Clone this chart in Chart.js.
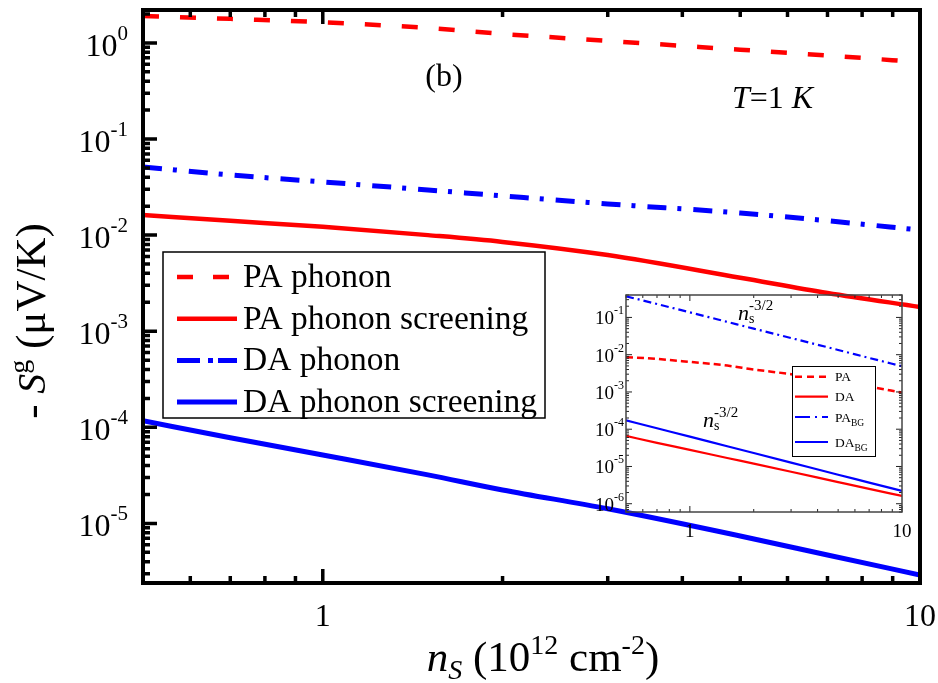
<!DOCTYPE html>
<html>
<head>
<meta charset="utf-8">
<script src="https://cdn.jsdelivr.net/npm/chart.js@4.4.1/dist/chart.umd.min.js"></script>
<style>
  html, body { margin: 0; padding: 0; background: #fff; }
  #wrap { position: relative; width: 938px; height: 683px; overflow: hidden; }
  #main { position: absolute; left: 0; top: 0; }
  #inset { position: absolute; left: 585px; top: 285px; }
</style>
</head>
<body>
<div id="wrap">
  <canvas id="main" width="938" height="683"></canvas>
  <canvas id="inset" width="333" height="255"></canvas>
</div>
<script>
const SERIF = '"Liberation Serif", "Times New Roman", serif';

// main panel, n_s in 10^12 cm^-2, -S^g in uV/K
const nsMain = [0.5, 0.7, 1, 1.5, 2, 3, 5, 7, 10];
const paPhonon = [1.91, 1.78, 1.64, 1.43, 1.24, 1.05, 0.85, 0.74, 0.63];
const paScreening = [0.0162, 0.0141, 0.0122, 0.0100, 0.0085, 0.0062, 0.0036, 0.0025, 0.00179];
const daPhonon = [0.0513, 0.0423, 0.0358, 0.0295, 0.0256, 0.0211, 0.0170, 0.0141, 0.0113];
const daScreening = [1.17e-4, 7.8e-5, 5.16e-5, 3.2e-5, 2.23e-5, 1.42e-5, 7.4e-6, 4.7e-6, 2.91e-6];
const mainLabels = ['PA phonon', 'PA phonon screening', 'DA phonon', 'DA phonon screening'];
const mainXTicks = [1, 10];
const mainYExps = [0, -1, -2, -3, -4, -5];

// inset
const nsInset = [0.5, 0.7, 1, 1.5, 2, 3, 5, 7, 10];
const insetPA = [0.0086, 0.0077, 0.0064, 0.0051, 0.0040, 0.0030, 0.0019, 0.0014, 0.00096];
const insetDA = [6.6e-5, 4.3e-5, 2.8e-5, 1.69e-5, 1.19e-5, 7.2e-6, 3.8e-6, 2.5e-6, 1.62e-6];
const insetPABG = [0.37, 0.229, 0.137, 0.076, 0.050, 0.028, 0.0134, 0.0082, 0.0049];
const insetDABG = [1.73e-4, 1.06e-4, 6.3e-5, 3.5e-5, 2.3e-5, 1.27e-5, 6.0e-6, 3.7e-6, 2.2e-6];
const insetLabels = [['PA', ''], ['DA', ''], ['PA', 'BG'], ['DA', 'BG']];
const insetXTicks = [1, 10];
const insetYExps = [-1, -2, -3, -4, -5, -6];

const pts = (xs, ys) => xs.map((x, i) => ({ x: x, y: ys[i] }));
const font = (size, style) => (style || 'normal') + ' ' + size + 'px ' + SERIF;

// draws text pieces one after another (sub/superscripts via dy)
function rich(ctx, parts, x, y, align) {
    let total = 0;
    parts.forEach(p => { ctx.font = font(p.s, p.st); p.w = ctx.measureText(p.t).width; total += p.w; });
    let cx = align === 'right' ? x - total : align === 'center' ? x - total / 2 : x;
    ctx.textAlign = 'left';
    ctx.textBaseline = 'alphabetic';
    parts.forEach(p => {
        ctx.font = font(p.s, p.st);
        ctx.fillText(p.t, cx, y + (p.dy || 0));
        if (!p.stack) cx += p.w;
    });
}

function logTicks(min, max) {
    const out = [];
    for (let d = Math.floor(Math.log10(min)); d <= Math.ceil(Math.log10(max)); d++) {
        for (let m = 1; m < 10; m++) {
            const v = m * Math.pow(10, d);
            if (v >= min * 0.999 && v <= max * 1.001) out.push({ v: v, major: m === 1 });
        }
    }
    return out;
}

function drawFrame(ctx, chart, o) {
    const a = chart.chartArea, xs = chart.scales.x, ys = chart.scales.y;
    ctx.save();
    ctx.strokeStyle = o.color;
    ctx.lineWidth = o.tickWidth;
    ctx.setLineDash([]);
    ctx.beginPath();
    logTicks(xs.min, xs.max).forEach(t => {
        const px = xs.getPixelForValue(t.v), len = t.major ? o.major : o.minor;
        ctx.moveTo(px, a.bottom); ctx.lineTo(px, a.bottom - len);
        ctx.moveTo(px, a.top); ctx.lineTo(px, a.top + len);
    });
    logTicks(ys.min, ys.max).forEach(t => {
        const py = ys.getPixelForValue(t.v), len = t.major ? o.major : o.minor;
        ctx.moveTo(a.left, py); ctx.lineTo(a.left + len, py);
        if (o.mirrorY) { ctx.moveTo(a.right, py); ctx.lineTo(a.right - len, py); }
    });
    ctx.stroke();
    ctx.strokeStyle = o.frameColor;
    ctx.lineWidth = o.frameWidth;
    ctx.strokeRect(a.left, a.top, a.right - a.left, a.bottom - a.top);
    ctx.restore();
}

const mainDecor = {
    id: 'mainDecor',
    afterDatasetsDraw(chart) {
        const ctx = chart.ctx;
        // legend
        ctx.save();
        ctx.fillStyle = '#fff';
        ctx.fillRect(163, 252, 382, 166);
        ctx.strokeStyle = '#000';
        ctx.lineWidth = 1.5;
        ctx.strokeRect(163, 252, 382, 166);
        chart.data.datasets.forEach((ds, i) => {
            const y = 277 + i * 41.7;
            ctx.strokeStyle = ds.borderColor;
            ctx.lineWidth = ds.borderWidth;
            ctx.setLineDash(ds.legendDash || []);
            ctx.beginPath(); ctx.moveTo(177, y); ctx.lineTo(237, y); ctx.stroke();
            ctx.setLineDash([]);
            ctx.fillStyle = '#000';
            rich(ctx, [{ t: ds.label, s: 33.5 }], 243, y + 10, 'left');
        });
        ctx.restore();
    },
    afterDraw(chart) {
        const ctx = chart.ctx, xs = chart.scales.x, ys = chart.scales.y;
        drawFrame(ctx, chart, { color: '#000', frameColor: '#000', tickWidth: 3.5, frameWidth: 4, major: 14, minor: 7, mirrorY: false });
        ctx.save();
        ctx.fillStyle = '#000';
        mainYExps.forEach(e => {
            const py = ys.getPixelForValue(Math.pow(10, e));
            rich(ctx, [{ t: '10', s: 32 }, { t: String(e), s: 21, dy: -16 }], 128, py + 13, 'right');
        });
        mainXTicks.forEach(v => {
            rich(ctx, [{ t: String(v), s: 32 }], xs.getPixelForValue(v), 626, 'center');
        });
        // axis titles
        rich(ctx, [
            { t: 'n', s: 43, st: 'italic' }, { t: 'S', s: 28, st: 'italic', dy: 8 },
            { t: ' (10', s: 43 }, { t: '12', s: 28, dy: -17 },
            { t: ' cm', s: 43 }, { t: '-2', s: 28, dy: -17 }, { t: ')', s: 43 }
        ], 543, 671, 'center');
        ctx.save();
        ctx.translate(45, 321);
        ctx.rotate(-Math.PI / 2);
        rich(ctx, [
            { t: '- ', s: 43 }, { t: 'S', s: 40, st: 'italic' }, { t: 'g', s: 28, dy: -17 },
            { t: ' (\u03BCV/K)', s: 43 }
        ], 0, 0, 'center');
        ctx.restore();
        rich(ctx, [{ t: '(b)', s: 32 }], 444, 86, 'center');
        rich(ctx, [{ t: 'T', s: 32, st: 'italic' }, { t: '=1 ', s: 32 }, { t: 'K', s: 32, st: 'italic' }], 732, 108, 'left');
        ctx.restore();
    }
};

const insetDecor = {
    id: 'insetDecor',
    afterDatasetsDraw(chart) {
        const ctx = chart.ctx;
        ctx.save();
        ctx.fillStyle = '#fff';
        ctx.fillRect(207, 81, 83, 90);
        ctx.strokeStyle = '#000';
        ctx.lineWidth = 1;
        ctx.strokeRect(207.5, 81.5, 83, 90);
        const rows = [91.7, 111.7, 132, 157];
        chart.data.datasets.forEach((ds, i) => {
            const y = rows[i];
            ctx.strokeStyle = ds.borderColor;
            ctx.lineWidth = ds.borderWidth;
            ctx.setLineDash(ds.legendDash || []);
            ctx.beginPath(); ctx.moveTo(210, y); ctx.lineTo(243, y); ctx.stroke();
            ctx.setLineDash([]);
            ctx.fillStyle = '#000';
            const lab = insetLabels[i];
            rich(ctx, [{ t: lab[0], s: 13.5 }, { t: lab[1], s: 9.5, dy: 4 }], 250, y + 4.5, 'left');
        });
        ctx.restore();
    },
    afterDraw(chart) {
        const ctx = chart.ctx, xs = chart.scales.x, ys = chart.scales.y;
        drawFrame(ctx, chart, { color: '#222', frameColor: '#444', tickWidth: 1, frameWidth: 1.5, major: 6, minor: 3, mirrorY: true });
        ctx.save();
        ctx.fillStyle = '#000';
        insetYExps.forEach(e => {
            const py = ys.getPixelForValue(Math.pow(10, e));
            rich(ctx, [{ t: '10', s: 19 }, { t: String(e), s: 12, dy: -10 }], 39, py + 7, 'right');
        });
        insetXTicks.forEach(v => {
            rich(ctx, [{ t: String(v), s: 19 }], xs.getPixelForValue(v), 252, 'center');
        });
        const power = [{ t: 'n', s: 22, st: 'italic' }, { t: 's', s: 14, dy: 3, stack: true }, { t: '-3/2', s: 15, dy: -10 }];
        rich(ctx, power, 153, 35, 'left');
        rich(ctx, power, 118, 142, 'left');
        ctx.restore();
    }
};

const logAxis = (min, max, fit) => ({
    type: 'logarithmic', min: min, max: max,
    ticks: { display: false }, grid: { display: false }, border: { display: false },
    afterFit: fit
});

new Chart(document.getElementById('main'), {
    type: 'line',
    data: {
        datasets: [
            { label: mainLabels[0], data: pts(nsMain, paPhonon), borderColor: '#ff0000', borderWidth: 4.5, borderDash: [16, 21], legendDash: [16, 20] },
            { label: mainLabels[1], data: pts(nsMain, paScreening), borderColor: '#ff0000', borderWidth: 4.5 },
            { label: mainLabels[2], data: pts(nsMain, daPhonon), borderColor: '#0000ff', borderWidth: 5, borderDash: [19, 11, 4, 12], legendDash: [23, 8, 5, 5] },
            { label: mainLabels[3], data: pts(nsMain, daScreening), borderColor: '#0000ff', borderWidth: 5 }
        ]
    },
    options: {
        responsive: false, animation: false, events: [],
        layout: { padding: { top: 10, right: 18, left: 0, bottom: 0 } },
        elements: { point: { radius: 0 }, line: { cubicInterpolationMode: 'monotone', borderCapStyle: 'butt' } },
        plugins: { legend: { display: false }, tooltip: { enabled: false } },
        scales: {
            x: logAxis(0.5, 10, s => { s.height = 100; }),
            y: logAxis(2.4e-6, 2.2, s => { s.width = 143; })
        }
    },
    plugins: [mainDecor]
});

new Chart(document.getElementById('inset'), {
    type: 'line',
    data: {
        datasets: [
            { label: 'PA', data: pts(nsInset, insetPA), borderColor: '#ff0000', borderWidth: 2.5, borderDash: [7, 4], legendDash: [7, 5] },
            { label: 'DA', data: pts(nsInset, insetDA), borderColor: '#ff0000', borderWidth: 2.2 },
            { label: 'PA_BG', data: pts(nsInset, insetPABG), borderColor: '#0000ff', borderWidth: 2.2, borderDash: [8, 4, 2, 4], legendDash: [15, 5, 2, 5] },
            { label: 'DA_BG', data: pts(nsInset, insetDABG), borderColor: '#0000ff', borderWidth: 2.2 }
        ]
    },
    options: {
        responsive: false, animation: false, events: [],
        layout: { padding: { top: 10, right: 16, left: 0, bottom: 0 } },
        elements: { point: { radius: 0 }, line: { cubicInterpolationMode: 'monotone', borderCapStyle: 'butt' } },
        plugins: { legend: { display: false }, tooltip: { enabled: false } },
        scales: {
            x: logAxis(0.5, 10, s => { s.height = 28; }),
            y: logAxis(6e-7, 0.4, s => { s.width = 41; })
        }
    },
    plugins: [insetDecor]
});
</script>
</body>
</html>
